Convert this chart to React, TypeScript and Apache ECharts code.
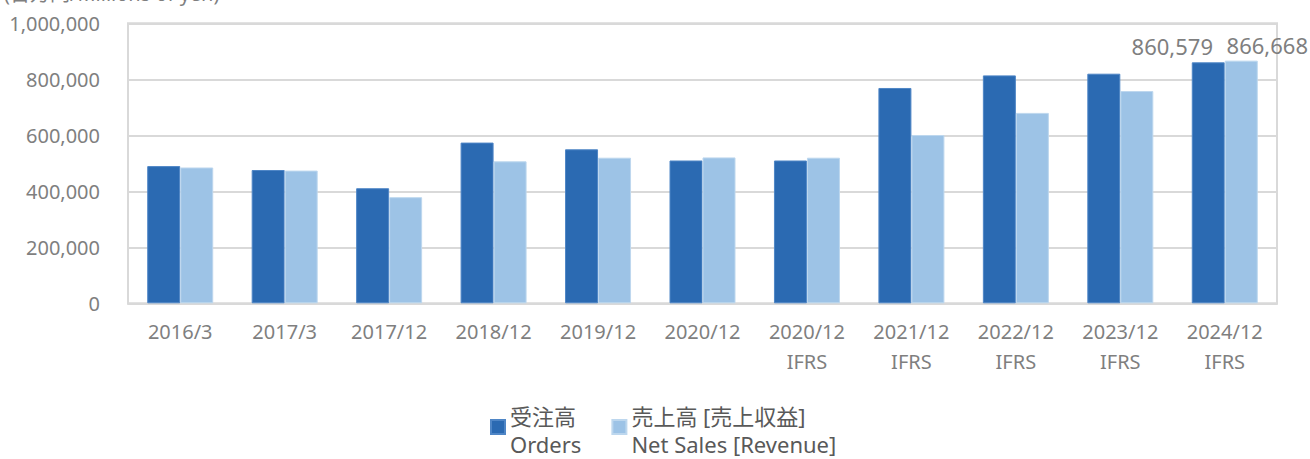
import React, { useEffect, useRef } from "react";
import * as echarts from "echarts";

const categories = [
  "2016/3",
  "2017/3",
  "2017/12",
  "2018/12",
  "2019/12",
  "2020/12",
  "2020/12\nIFRS",
  "2021/12\nIFRS",
  "2022/12\nIFRS",
  "2023/12\nIFRS",
  "2024/12\nIFRS",
];
const orders = [490000, 476000, 411000, 574000, 550000, 510000, 510000, 769000, 814000, 820000, 860579];
const netSales = [485000, 474000, 379000, 507000, 520000, 521000, 520000, 601000, 680000, 758000, 866668];
const yTicks = [0, 200000, 400000, 600000, 800000, 1000000];
const seriesNames = ["受注高\nOrders", "売上高 [売上収益]\nNet Sales [Revenue]"];

const FONT = "'Noto Sans', 'Noto Sans CJK JP', sans-serif";

export default function App() {
  const ref = useRef<HTMLDivElement>(null);
  useEffect(() => {
    if (!ref.current) return;
    const chart = echarts.init(ref.current, null, { renderer: "svg" });
    const fmt = (v: number) => v.toLocaleString("en-US");
    const lastIdx = categories.length - 1;
    const mkData = (arr: number[], offsetX: number) =>
      arr.map((v, i) =>
        i === lastIdx
          ? {
              value: v,
              label: {
                show: true,
                position: "top",
                distance: 5,
                offset: [offsetX, 0],
                formatter: (p: any) => fmt(p.value),
                color: "#7f7f7f",
                fontSize: 22,
                fontFamily: FONT,
              },
            }
          : v
      );
    chart.setOption({
      animation: false,
      textStyle: { fontFamily: FONT },
      graphic: [
        {
          type: "text",
          left: 4,
          top: -17,
          style: {
            text: "(百万円/Millions of yen)",
            fontSize: 20,
            fill: "#7f7f7f",
            fontFamily: FONT,
          },
        },
      ],
      grid: {
        left: 128,
        right: 33,
        top: 23.3,
        bottom: 155.7,
        show: true,
        borderColor: "#d9d9d9",
        borderWidth: 2,
        containLabel: false,
      },
      legend: {
        data: seriesNames,
        left: 490,
        top: 397,
        padding: 0,
        itemWidth: 14,
        itemHeight: 14,
        itemGap: 30,
        itemTextGap: 6,
        icon: "rect",
        formatter: (name: string) => {
          const parts = name.split("\n");
          return `{s| }\n{a|${parts[0]}}\n{a|${parts[1]}}`;
        },
        textStyle: {
          fontSize: 22,
          color: "#595959",
          fontFamily: FONT,
          rich: {
            s: { fontSize: 4, lineHeight: 6 },
            a: { fontSize: 22, lineHeight: 28, color: "#595959", fontFamily: FONT },
          },
        },
      },
      xAxis: {
        type: "category",
        data: categories,
        axisLine: { show: true, lineStyle: { color: "#d9d9d9", width: 2 } },
        axisTick: { show: false },
        axisLabel: {
          color: "#7f7f7f",
          fontSize: 20,
          lineHeight: 30,
          margin: 13,
          fontFamily: FONT,
          interval: 0,
        },
      },
      yAxis: {
        type: "value",
        min: yTicks[0],
        max: yTicks[yTicks.length - 1],
        interval: yTicks[1] - yTicks[0],
        axisLine: { show: false },
        axisTick: { show: false },
        splitLine: { lineStyle: { color: "#d9d9d9", width: 2 } },
        axisLabel: {
          color: "#7f7f7f",
          fontSize: 20,
          margin: 28,
          fontFamily: FONT,
          formatter: (v: number) => fmt(v),
        },
      },
      series: [
        {
          name: seriesNames[0],
          type: "bar",
          data: mkData(orders, -36),
          barWidth: 33,
          barGap: "0%",
          itemStyle: { color: "#2b6ab2", borderColor: "#4f86c6", borderWidth: 1 },
        },
        {
          name: seriesNames[1],
          type: "bar",
          data: mkData(netSales, 26),
          barWidth: 33,
          barGap: "0%",
          itemStyle: { color: "#9dc3e6", borderColor: "#bdd7ee", borderWidth: 1 },
        },
      ],
    });
    return () => chart.dispose();
  }, []);
  return (
    <div
      ref={ref}
      style={{ position: "absolute", left: 0, top: 0, width: 1310, height: 459 }}
    />
  );
}
